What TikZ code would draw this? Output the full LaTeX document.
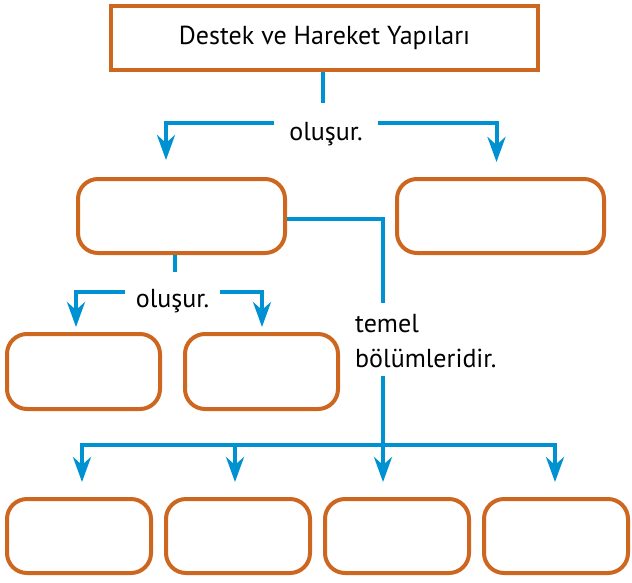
\documentclass[tikz,border=0pt]{standalone}
\usepackage{fontspec}
\setmainfont{PT Sans}
\usetikzlibrary{positioning}
\usetikzlibrary{arrows.meta}
\definecolor{boxorange}{RGB}{205,103,31}
\definecolor{lineblue}{RGB}{0,145,210}
\tikzstyle{titleblock} = [rectangle, minimum width=427pt, minimum height=64pt, text centered, draw=boxorange, line width=4pt, fill=white, font=\fontsize{26}{31}\selectfont]
\tikzstyle{emptyblock} = [rectangle, rounded corners=20pt, minimum width=207pt, minimum height=74pt, draw=boxorange, line width=4pt]
\tikzstyle{word} = [inner sep=0pt, font=\fontsize{26}{31}\selectfont]
\tikzstyle{link} = [line width=4pt, draw=lineblue]
\tikzstyle{arrow} = [link, -{Stealth[length=25pt,width=18pt,inset=8pt]}]
\begin{document}
\begin{tikzpicture}[x=1pt, y=1pt]

	\useasboundingbox (0,0) rectangle (632,-582);

	\node (title) [titleblock] at (324.5,-38) {Destek ve Hareket Yapıları};

	\node (mainLeft) [emptyblock] at (181.5,-216) {};

	\node (mainRight) [emptyblock, right=108pt of mainLeft] {};

	\node (subOne) [emptyblock, minimum width=153pt, minimum height=75pt] at (83.5,-371.5) {};

	\node (subTwo) [emptyblock, minimum width=153pt, minimum height=75pt, right=21pt of subOne] {};

	\node (baseOne) [emptyblock, minimum width=144pt] at (79,-536) {};

	\node (baseTwo) [emptyblock, minimum width=144pt, right=11pt of baseOne] {};

	\node (baseThree) [emptyblock, minimum width=144pt, right=11pt of baseTwo] {};

	\node (baseFour) [emptyblock, minimum width=144pt, right=11pt of baseThree] {};

	\node (formsTop) [word, minimum width=103pt, anchor=base] at (326,-140) {oluşur.};

	\node (formsLeft) [word, minimum width=95pt, anchor=base] at (172.5,-307) {oluşur.};

	\node (partsText) [word, align=left, anchor=north west, font=\fontsize{26}{35}\selectfont] at (355,-314) {temel\\bölümleridir.};

	\coordinate (topStem) at ([xshift=-1.5pt, yshift=-31pt]title.south);
	\coordinate (leftStem) at ([xshift=-6.5pt, yshift=-17pt]mainLeft.south);
	\coordinate (partsTop) at (383,-303);
	\coordinate (partsBottom) at (383,-376);
	\coordinate (baseFork) at (383,-445);



	\draw [link] ([xshift=-1.5pt]title.south) -- (topStem);
	\draw [arrow, shorten >=17pt] ([yshift=17pt]formsTop.base west) -| ([xshift=-15.5pt]mainLeft.north);
	\draw [arrow, shorten >=15pt] ([yshift=17pt]formsTop.base east) -| ([xshift=-4pt]mainRight.north);

	\draw [link] ([xshift=-6.5pt]mainLeft.south) -- (leftStem);
	\draw [arrow, shorten >=5pt] ([yshift=15pt]formsLeft.base west) -| ([xshift=-7.5pt]subOne.north);
	\draw [arrow, shorten >=5pt] ([yshift=15pt]formsLeft.base east) -| ([xshift=0.5pt]subTwo.north);

	\draw [link] ([yshift=-3pt]mainLeft.east) -| (partsTop);
	\draw [link] (partsBottom) -- (baseFork);
	\draw [arrow, shorten >=15pt] (baseFork) -| ([xshift=3pt]baseOne.north);
	\draw [arrow, shorten >=15pt] (baseFork) -| ([xshift=-3pt]baseTwo.north);
	\draw [arrow, shorten >=15pt] (baseFork) -- ([xshift=-14pt]baseThree.north);
	\draw [arrow, shorten >=15pt] (baseFork) -| ([xshift=-1pt]baseFour.north);

\end{tikzpicture}
\end{document}
